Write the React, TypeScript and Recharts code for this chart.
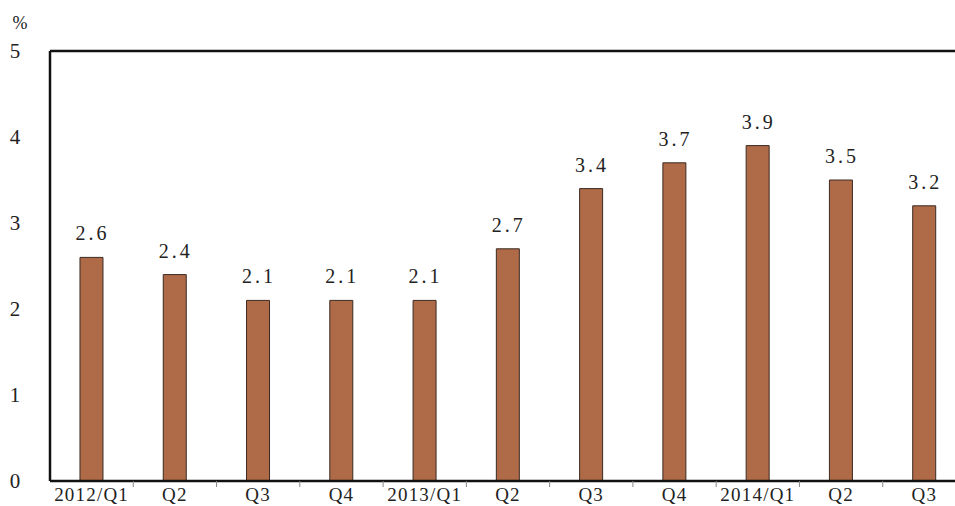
import { BarChart, Bar, XAxis, YAxis, ReferenceLine, LabelList } from "recharts";

const QUARTERS = ["2012/Q1", "Q2", "Q3", "Q4", "2013/Q1", "Q2", "Q3", "Q4", "2014/Q1", "Q2", "Q3"];
const GROWTH = [2.6, 2.4, 2.1, 2.1, 2.1, 2.7, 3.4, 3.7, 3.9, 3.5, 3.2];
const Y_TICKS = [0, 1, 2, 3, 4, 5];

const FONT = "'Liberation Serif', 'DejaVu Serif', serif";
const BAR_FILL = "#AF6A47";

const data = QUARTERS.map((q, i) => ({ key: `${q}-${i}`, label: q, value: GROWTH[i] }));

// x tick: label under the bar + small upward tick at the right edge of each category
const QuarterTick = (props: any) => {
  const { x, y, payload, index } = props;
  const half = payload?.offset ?? 41.6;
  return (
    <g>
      <text
        x={x}
        y={y + 12}
        textAnchor="middle"
        fontFamily={FONT}
        fontSize={19}
        letterSpacing={1.2}
        fill="#222"
      >
        {QUARTERS[index]}
      </text>
      <line x1={x + half} x2={x + half} y1={y - 2} y2={y - 8} stroke="#888" strokeWidth={1} />
    </g>
  );
};

const ValueTick = (props: any) => {
  const { x, y, payload } = props;
  return (
    <text x={x - 27} y={y + 7} textAnchor="middle" fontFamily={FONT} fontSize={21} fill="#222">
      {payload.value}
    </text>
  );
};

const renderValue = (props: any) => {
  const { x, y, width, value } = props;
  return (
    <text
      x={x + width / 2 + 1}
      y={y - 17}
      textAnchor="middle"
      fontFamily={FONT}
      fontSize={20}
      letterSpacing={3}
      fill="#222"
    >
      {Number(value).toFixed(1)}
    </text>
  );
};

export default function App() {
  return (
    <div style={{ position: "absolute", left: 0, top: 0, width: 955, height: 506, overflow: "hidden", background: "#fff" }}>
      <BarChart
        width={970}
        height={506}
        data={data}
        margin={{ top: 51, right: 4, bottom: 0, left: 0 }}
        barCategoryGap="36%"
      >
        <XAxis
          dataKey="key"
          height={25}
          interval={0}
          tickLine={false}
          axisLine={{ stroke: "#111", strokeWidth: 2.5 }}
          tick={<QuarterTick />}
        />
        <YAxis
          width={50}
          domain={[0, 5]}
          ticks={Y_TICKS}
          tickLine={false}
          axisLine={{ stroke: "#111", strokeWidth: 2.5 }}
          tick={<ValueTick />}
          label={{ value: "%", position: "top", offset: 22, dx: -5, fontFamily: FONT, fontSize: 18, fill: "#222" }}
        />
        <ReferenceLine y={5} stroke="#111" strokeWidth={2.5} />
        <Bar dataKey="value" fill={BAR_FILL} stroke="#3b2a22" strokeWidth={1} isAnimationActive={false}>
          <LabelList dataKey="value" content={renderValue} />
        </Bar>
      </BarChart>
    </div>
  );
}
